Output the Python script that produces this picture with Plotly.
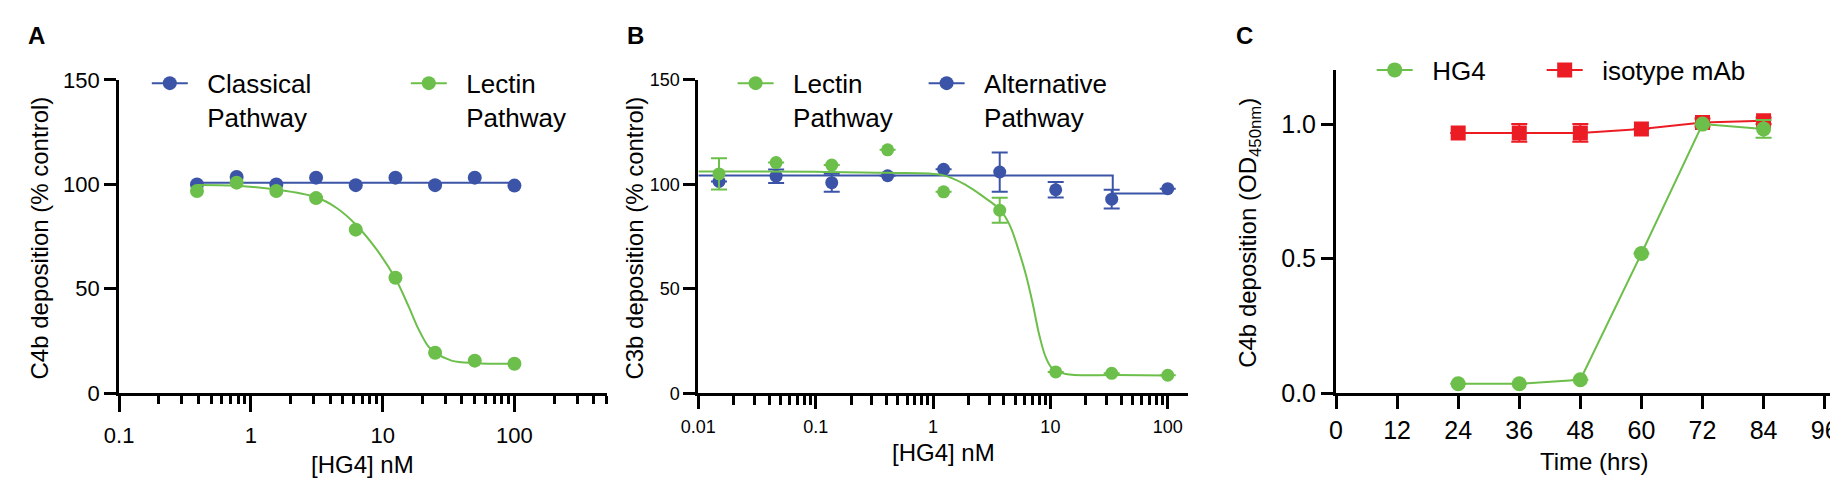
import math
import plotly.graph_objects as go

FONT = 'Arial, "Liberation Sans", Helvetica, sans-serif'
BLUE = '#3b54a7'
GREEN = '#6cbf4a'
RED = '#ec1c24'
W, H = 1838, 484
PAD = '\u00a0\u00a0'  # small gap between legend symbol and text

# panel A: C4b deposition vs HG4 (classical / lectin)
conc_a = [0.39, 0.78, 1.56, 3.125, 6.25, 12.5, 25, 50, 100]
classical_a = [99.9, 103.5, 99.9, 103.2, 99.6, 103.2, 99.6, 103.2, 99.4]
lectin_a = [96.8, 100.8, 96.8, 93.4, 78.3, 55.3, 19.4, 15.6, 14.1]
classical_fit_x = [0.39, 100]
classical_fit_y = [100.8, 100.8]
lectin_fit_x = [0.39, 0.78, 1.56, 3.13, 4.45, 6.25, 8.9, 12.5, 15.8, 18.7, 22.2, 25, 33.3, 50, 100]
lectin_fit_y = [99.7, 99.3, 97.5, 93.8, 88.8, 80.8, 69.2, 54.9, 41.3, 30.7, 22.4, 19.4, 15.6, 14.4, 14.1]

# panel B: C3b deposition vs HG4 (lectin / alternative)
conc_b = [0.015, 0.046, 0.137, 0.41, 1.23, 3.7, 11.1, 33.3, 100]
lectin_b = [105.0, 110.4, 109.2, 116.5, 96.4, 87.6, 10.2, 9.5, 8.6]
lectin_b_err = [7.5, None, None, None, None, 6.0, None, None, None]
alt_b = [101.4, 103.9, 100.8, 104.1, 107.2, 105.9, 97.4, 92.9, 97.9]
alt_b_err = [None, 3.2, 4.3, None, None, 9.4, 3.7, 4.5, None]
lectin_b_fit_x = [0.01, 0.1, 0.41, 1.23, 1.94, 2.68, 3.7, 4.5, 5.47, 6.21, 7.08, 8.06, 9.16, 10.4, 13.5, 35.7, 100]
lectin_b_fit_y = [106.2, 106.0, 105.5, 104.3, 99.4, 94.1, 88.0, 80.5, 66.9, 56.3, 42.7, 27.6, 17.0, 11.8, 9.2, 8.7, 8.5]
alt_b_fit_x = [0.01, 34, 34, 100]
alt_b_fit_y = [104.2, 104.2, 95.6, 95.6]

# panel C: C4b deposition over time
time_c = [24, 36, 48, 60, 72, 84]
hg4_c = [0.035, 0.035, 0.05, 0.519, 1.0, 0.982]
hg4_c_err = [None, None, None, None, None, 0.033]
iso_c = [0.967, 0.967, 0.967, 0.982, 1.006, 1.012]
iso_c_err = [None, 0.033, 0.033, None, 0.015, 0.012]


def px(x):
    return x / W


def py(y):
    return 1 - y / H


def err(arr, color):
    return dict(type='data', array=arr, visible=True, color=color, thickness=2, width=8)


def legend_key(name, color, size, xa, ya, leg, rank, lw=None, symbol='circle'):
    # legend-only entry so the key shows line + marker like the original
    return go.Scatter(x=[None], y=[None], mode='lines+markers', name=name,
                      line=dict(color=color, width=2),
                      marker=dict(color=color, size=size, symbol=symbol),
                      xaxis=xa, yaxis=ya, legend=leg, legendrank=rank, legendwidth=lw)


fig = go.Figure()

# A
fig.add_trace(go.Scatter(x=classical_fit_x, y=classical_fit_y, mode='lines',
                         line=dict(color=BLUE, width=2), showlegend=False, xaxis='x', yaxis='y'))
fig.add_trace(go.Scatter(x=conc_a, y=classical_a, mode='markers', showlegend=False,
                         marker=dict(color=BLUE, size=14), xaxis='x', yaxis='y'))
fig.add_trace(go.Scatter(x=lectin_fit_x, y=lectin_fit_y, mode='lines', line_shape='spline',
                         line=dict(color=GREEN, width=2), showlegend=False, xaxis='x', yaxis='y'))
fig.add_trace(go.Scatter(x=conc_a, y=lectin_a, mode='markers', showlegend=False,
                         marker=dict(color=GREEN, size=14), xaxis='x', yaxis='y'))
fig.add_trace(legend_key(PAD + 'Classical<br>' + PAD + 'Pathway', BLUE, 14, 'x', 'y', 'legend', 1, 208))
fig.add_trace(legend_key(PAD + 'Lectin<br>' + PAD + 'Pathway', GREEN, 14, 'x', 'y', 'legend', 2))

# B
fig.add_trace(go.Scatter(x=alt_b_fit_x, y=alt_b_fit_y, mode='lines',
                         line=dict(color=BLUE, width=2), showlegend=False, xaxis='x2', yaxis='y2'))
fig.add_trace(go.Scatter(x=conc_b, y=alt_b, mode='markers', showlegend=False,
                         marker=dict(color=BLUE, size=13), error_y=err(alt_b_err, BLUE),
                         xaxis='x2', yaxis='y2'))
fig.add_trace(go.Scatter(x=lectin_b_fit_x, y=lectin_b_fit_y, mode='lines', line_shape='spline',
                         line=dict(color=GREEN, width=2), showlegend=False, xaxis='x2', yaxis='y2'))
fig.add_trace(go.Scatter(x=conc_b, y=lectin_b, mode='markers', showlegend=False,
                         marker=dict(color=GREEN, size=13), error_y=err(lectin_b_err, GREEN),
                         xaxis='x2', yaxis='y2'))
fig.add_trace(legend_key(PAD + 'Lectin<br>' + PAD + 'Pathway', GREEN, 14, 'x2', 'y2', 'legend2', 1, 140))
fig.add_trace(legend_key(PAD + 'Alternative<br>' + PAD + 'Pathway', BLUE, 14, 'x2', 'y2', 'legend2', 2))

# C
fig.add_trace(go.Scatter(x=time_c, y=iso_c, mode='lines+markers', name=PAD + 'isotype mAb',
                         line=dict(color=RED, width=2), marker=dict(color=RED, size=15, symbol='square'),
                         error_y=err(iso_c_err, RED), xaxis='x3', yaxis='y3',
                         legend='legend3', legendrank=2))
fig.add_trace(go.Scatter(x=time_c, y=hg4_c, mode='lines+markers', name=PAD + 'HG4',
                         line=dict(color=GREEN, width=2), marker=dict(color=GREEN, size=15),
                         error_y=err(hg4_c_err, GREEN), xaxis='x3', yaxis='y3',
                         legend='legend3', legendrank=1, legendwidth=119))

axis_common = dict(showline=True, linecolor='black', linewidth=3, ticks='outside',
                   tickcolor='black', tickwidth=3, showgrid=False, zeroline=False,
                   fixedrange=True)

minor_log = dict(ticks='outside', ticklen=8, tickwidth=3, tickcolor='black',
                 showgrid=False, dtick='D1')

ybot, ytop = 394.4, 63.3
ytop_c = 53.1

legend_common = dict(orientation='h', xanchor='left', yanchor='top', valign='top',
                     font=dict(size=26), bgcolor='rgba(0,0,0,0)', itemwidth=36,
                     traceorder='normal', itemclick=False, itemdoubleclick=False)

fig.update_layout(
    width=W, height=H,
    margin=dict(l=0, r=0, t=0, b=0),
    paper_bgcolor='white', plot_bgcolor='white',
    font=dict(family=FONT, color='black'),
    xaxis=dict(axis_common, type='log', range=[-1, math.log10(500)], dtick=1,
               domain=[px(94), px(586.3)], anchor='y', ticklen=16,
               tickfont=dict(size=22), ticklabelstandoff=4, minor=minor_log),
    yaxis=dict(axis_common, range=[0, 150], tickvals=[0, 50, 100, 150], ticklen=12,
               domain=[py(ybot), py(ytop)], anchor='x', tickfont=dict(size=22)),
    xaxis2=dict(axis_common, type='log', range=[-2, math.log10(150)], dtick=1,
                domain=[px(679), px(1173.9)], anchor='y2', ticklen=13,
                tickfont=dict(size=18), ticklabelstandoff=2,
                minor=dict(minor_log, ticklen=9)),
    yaxis2=dict(axis_common, range=[0, 150], tickvals=[0, 50, 100, 150], ticklen=12,
                domain=[py(ybot), py(ytop)], anchor='x2', tickfont=dict(size=18)),
    xaxis3=dict(axis_common, range=[0, 100], tickvals=[0, 12, 24, 36, 48, 60, 72, 84, 96],
                domain=[px(1323), px(1837)], anchor='y3', ticklen=13,
                tickfont=dict(size=25)),
    yaxis3=dict(axis_common, range=[0, 1.2], tickvals=[0, 0.5, 1.0], tickformat='.1f',
                ticklen=12, domain=[py(ybot), py(ytop_c)], anchor='x3',
                tickfont=dict(size=25)),
    legend=dict(legend_common, x=px(122), y=py(42)),
    legend2=dict(legend_common, x=px(713.6), y=py(42)),
    legend3=dict(legend_common, x=px(1359), y=py(28)),
)

annotations = [
    dict(text='<b>A</b>', x=px(11), y=py(16)),
    dict(text='<b>B</b>', x=px(616), y=py(16)),
    dict(text='<b>C</b>', x=px(1231), y=py(16)),
    dict(text='C4b deposition (% control)', x=px(14), y=py(230), textangle=-90),
    dict(text='[HG4] nM', x=px(340), y=py(470)),
    dict(text='C3b deposition (% control)', x=px(615), y=py(230), textangle=-90),
    dict(text='[HG4] nM', x=px(927), y=py(457)),
    dict(text='C4b deposition (OD<sub>450nm</sub>)', x=px(1236), y=py(225), textangle=-90),
    dict(text='Time (hrs)', x=px(1584), y=py(467)),
]
for a in annotations:
    a.update(xref='paper', yref='paper', showarrow=False, xanchor='center', yanchor='middle',
             font=dict(size=24))
fig.update_layout(annotations=annotations)

fig.write_html("out.html")
